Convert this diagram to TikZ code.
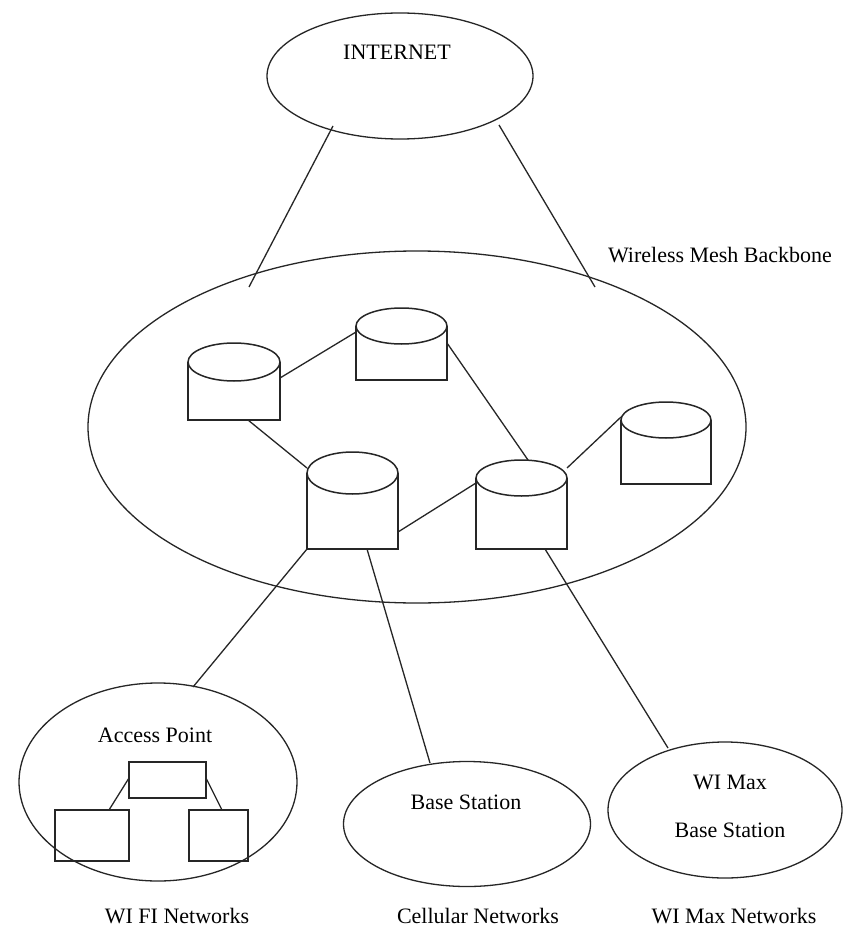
\documentclass[tikz,border=0pt]{standalone}
\usepackage{fontspec}
\setmainfont{Liberation Serif}
\usetikzlibrary{shapes.geometric}

% Drum (mesh router): box body with an elliptic lid.
% \drum{name}{left}{right}{lid centre y}{lid y radius}{bottom}
\newcommand\drum[6]{%
  \draw[drumline] (#2,#4) -- (#2,#6) -- (#3,#6) -- (#3,#4);
  \draw[drumline] ({(#2+#3)/2},#4) ellipse [x radius={(#3-#2)/2}, y radius=#5];
  \node[inner sep=0pt, minimum width={#3-#2}, minimum height={#6-#4+#5}, anchor=north west] (#1) at (#2,{#4-#5}) {};
}

\begin{document}
\begin{tikzpicture}[x=1pt, y=-1pt,
  net/.style={draw=black!85, ellipse, line width=1.3pt, inner sep=0pt},
  lbl/.style={font=\fontsize{22}{26}\selectfont, inner sep=0pt, text=black},
  link/.style={draw=black!85, line width=1.3pt},
  drumline/.style={draw=black!85, line width=1.5pt},
  box/.style={draw=black!85, line width=1.6pt}]
\useasboundingbox[fill=white] (0,0) rectangle (844,928);

% cloud and network regions
\node[net, minimum width=266, minimum height=126] (internet) at (400,76) {};
\node[net, minimum width=658, minimum height=352] (backbone) at (417,427) {};
\node[net, minimum width=278, minimum height=198] (wifi) at (158,782) {};
\node[net, minimum width=247, minimum height=125] (cell) at (467,824) {};
\node[net, minimum width=234, minimum height=136] (wimax) at (725,810) {};

% mesh routers
\drum{r1}{188}{280}{362}{19}{420}
\drum{r2}{356}{447}{326}{18}{380}
\drum{r3}{307}{398}{473}{21}{549}
\drum{r4}{476}{567}{478}{18}{549}
\drum{r5}{621}{711}{420}{18}{484}

% access point boxes
\node[box, minimum width=77, minimum height=36, inner sep=0pt] (ap) at (167.5,780) {};
\node[box, minimum width=74, minimum height=51, inner sep=0pt] (apL) at (92,835.5) {};
\node[box, minimum width=59, minimum height=51, inner sep=0pt] (apR) at (218.5,835.5) {};

% link end points
\coordinate (i1) at (333,126);  \coordinate (b1) at (249,287);
\coordinate (i2) at (499,125);  \coordinate (b2) at (595,287);
\coordinate (r1e) at (280,378); \coordinate (r2w) at (356,332);
\coordinate (r1s) at (248,420); \coordinate (r3w) at (307,468);
\coordinate (r2e) at (447,343); \coordinate (r4n) at (528,460);
\coordinate (r3e) at (398,532); \coordinate (r4w) at (476,483);
\coordinate (r4e) at (567,468); \coordinate (r5w) at (621,417);
\coordinate (r3a) at (307,549); \coordinate (wifiN) at (193,687);
\coordinate (r3b) at (367,549); \coordinate (cellN) at (430,763);
\coordinate (r4b) at (545,549); \coordinate (wimaxN) at (668,748);
\coordinate (apw) at (129,778); \coordinate (apLn) at (109,810);
\coordinate (ape) at (206,778); \coordinate (apRn) at (222,810);

% links
\draw[link] (i1) -- (b1);
\draw[link] (i2) -- (b2);
\draw[link] (r1e) -- (r2w);
\draw[link] (r1s) -- (r3w);
\draw[link] (r2e) -- (r4n);
\draw[link] (r3e) -- (r4w);
\draw[link] (r4e) -- (r5w);
\draw[link] (r3a) -- (wifiN);
\draw[link] (r3b) -- (cellN);
\draw[link] (r4b) -- (wimaxN);
\draw[link] (apw) -- (apLn);
\draw[link] (ape) -- (apRn);

% labels
\node[lbl] (tInternet) at (397,52) {INTERNET};
\node[lbl] (tMesh) at (720,255) {Wireless Mesh Backbone};
\node[lbl] (tAP) at (155,735) {Access Point};
\node[lbl] (tBS) at (466,802) {Base Station};
\node[lbl] (tWM1) at (730,782) {WI Max};
\node[lbl] (tWM2) at (730,830) {Base Station};
\node[lbl] (tWifi) at (177,916) {WI FI Networks};
\node[lbl] (tCell) at (478,916) {Cellular Networks};
\node[lbl] (tWimax) at (734,916) {WI Max Networks};
\end{tikzpicture}
\end{document}
